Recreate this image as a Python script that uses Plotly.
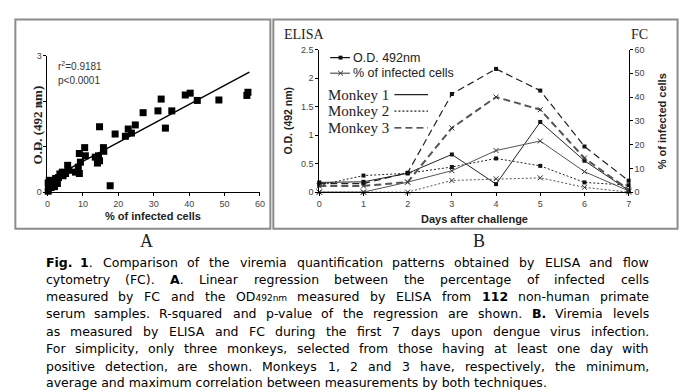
import re
import plotly.graph_objects as go

# ---------------- Panel A data: regression FC % vs O.D. ----------------
fc_pct = [56.6, 56.3, 48.4, 42.3, 40.3, 38.9, 32.1, 31.2, 35.1, 33.3, 27.0, 24.8,
          22.8, 23.7, 22.0, 19.1, 17.7, 14.7, 15.8, 15.9, 14.7, 14.4, 14.1, 13.5,
          10.5, 10.7, 9.0, 9.3, 9.0, 8.7, 7.9, 5.7, 6.0, 4.2, 4.4, 3.1, 2.3, 1.9,
          2.8, 0.9, 0.5, 0.3, 0.5, 1.4, 0.2, 5.1, 1.0, 0.2, 3.5, 2.0]
od_492 = [2.20, 2.13, 2.03, 2.02, 2.18, 2.14, 2.05, 1.79, 1.79, 1.41, 1.75, 1.48,
          1.39, 1.30, 1.23, 1.28, 0.14, 1.44, 0.98, 0.90, 0.69, 0.80, 0.64, 0.77,
          0.98, 0.80, 0.85, 0.66, 0.41, 0.55, 0.44, 0.59, 0.48, 0.44, 0.36, 0.32,
          0.30, 0.23, 0.19, 0.21, 0.16, 0.09, 0.26, 0.16, 0.02, 0.41, 0.10, 0.20,
          0.40, 0.12]
reg_slope = 0.0418
reg_intercept = 0.26
reg_x = [0, 57]
r2_label = "r<sup>2</sup>=0.9181"
p_label = "p&lt;0.0001"

# ---------------- Panel B data: viremia over days ----------------
days = [0, 1, 2, 3, 4, 5, 6, 7]
m1_od = [0.17, 0.18, 0.33, 0.66, 0.14, 1.23, 0.55, 0.03]
m1_pct = [0.0, 0.0, 4.2, 9.0, 17.5, 21.5, 8.6, 0.5]
m2_od = [0.12, 0.29, 0.33, 0.44, 0.59, 0.46, 0.17, 0.12]
m2_pct = [0.0, 0.0, 0.0, 4.9, 5.6, 6.0, 2.0, 0.0]
m3_od = [0.15, 0.15, 0.34, 1.72, 2.16, 1.78, 0.80, 0.20]
m3_pct = [2.6, 2.6, 4.2, 27.0, 40.0, 34.7, 14.3, 1.0]

W, H = 689, 392


def px(x):
    return x / W


def py(y):
    return 1 - y / H


fig = go.Figure()

# Panel A traces
fig.add_trace(go.Scatter(x=fc_pct, y=od_492, mode="markers", cliponaxis=False,
                         marker=dict(symbol="square", size=7, color="black"),
                         xaxis="x", yaxis="y", showlegend=False))
fig.add_trace(go.Scatter(x=reg_x, y=[reg_intercept + reg_slope * v for v in reg_x],
                         mode="lines", line=dict(color="black", width=1.4),
                         xaxis="x", yaxis="y", showlegend=False))

# Panel B traces
monkeys = [
    (m1_od, m1_pct, "solid", 1.0, 1.0),
    (m2_od, m2_pct, "2px,2px", 1.0, 1.0),
    (m3_od, m3_pct, "7px,4px", 1.2, 2.0),
]
for od, pct, dash, w_od, w_pct in monkeys:
    fig.add_trace(go.Scatter(x=days, y=od, mode="lines+markers", cliponaxis=False,
                             line=dict(color="#222", width=w_od, dash=dash),
                             marker=dict(symbol="square", size=4, color="#111"),
                             xaxis="x2", yaxis="y2", showlegend=False))
    fig.add_trace(go.Scatter(x=days, y=pct, mode="lines+markers", cliponaxis=False,
                             line=dict(color="#555", width=w_pct, dash=dash),
                             marker=dict(symbol="x-thin", size=5,
                                         line=dict(width=1, color="#333")),
                             xaxis="x2", yaxis="y3", showlegend=False))

tickf = dict(family="Liberation Sans, Arial", size=9, color="#444")
axis_common = dict(showline=True, linecolor="black", linewidth=1, ticks="outside",
                   ticklen=3, tickcolor="black", showgrid=False, zeroline=False,
                   tickfont=tickf)

fig.update_layout(
    width=W, height=H, margin=dict(l=0, r=0, t=0, b=0),
    paper_bgcolor="white", plot_bgcolor="white",
    xaxis=dict(domain=[px(45), px(260)], range=[0, 60], tickvals=[0, 10, 20, 30, 40, 50, 60],
               anchor="y", **axis_common),
    yaxis=dict(domain=[py(192), py(52.3)], range=[0, 3], tickvals=[0, 1, 2, 3],
               anchor="x", **axis_common),
    xaxis2=dict(domain=[px(320), px(633)], range=[0, 7], tickvals=days,
                anchor="y2", **axis_common),
    yaxis2=dict(domain=[py(192), py(45.7)], range=[0, 2.5],
                tickvals=[0, 0.5, 1, 1.5, 2, 2.5], anchor="x2", **axis_common),
    yaxis3=dict(domain=[py(192), py(45.7)], range=[0, 60], overlaying="y2", side="right",
                tickvals=[0, 10, 20, 30, 40, 50, 60], anchor="x2", **axis_common),
)

ann = []
shapes = []


def text_at(x, y, text, font, xanchor="left", angle=0):
    return dict(x=px(x), y=py(y), xref="paper", yref="paper", text=text, xanchor=xanchor,
                yanchor="middle", showarrow=False, font=font, textangle=angle, borderpad=0)


# Panel frames
for x0, x1 in [(12.5, 270.5), (273.5, 682.5)]:
    shapes.append(dict(type="rect", xref="paper", yref="paper", x0=px(x0), x1=px(x1),
                       y0=py(229.5), y1=py(15), line=dict(color="#8c8c8c", width=2)))

sans = "Liberation Sans, Arial"
serif = "Liberation Serif, Times New Roman"

# Panel A texts
ann += [
    text_at(55, 63, r2_label, dict(family=sans, size=10, color="#333")),
    text_at(55, 77, p_label, dict(family=sans, size=10, color="#333")),
    text_at(152, 217, "<b>% of infected cells</b>", dict(family=sans, size=11, color="#222"), "center"),
    text_at(35, 123, "<b>O.D. (492 nm)</b>", dict(family=serif, size=13, color="#222"), "center", -90),
    text_at(145, 242, "A", dict(family=serif, size=18, color="#222"), "center"),
    text_at(482, 242, "B", dict(family=serif, size=18, color="#222"), "center"),
]

# Panel B texts
ann += [
    text_at(283, 30, "ELISA", dict(family=serif, size=14, color="#222")),
    text_at(654, 30, "FC", dict(family=serif, size=14, color="#222"), "right"),
    text_at(477, 220, "<b>Days after challenge</b>", dict(family=sans, size=11, color="#222"), "center"),
    text_at(288, 119, "<b>O.D. (492 nm)</b>", dict(family=sans, size=10.5, color="#222"), "center", -90),
    text_at(667, 119, "<b>% of infected cells</b>", dict(family=sans, size=11, color="#222"), "center", -90),
]

# Panel B legend (decoration)
legend_font = dict(family=sans, size=12.5, color="#222")
for yy, label, col, sym in [(54, "O.D. 492nm", "#111", "sq"), (70, "% of infected cells", "#555", "x")]:
    shapes.append(dict(type="line", xref="paper", yref="paper", x0=px(331), x1=px(351),
                       y0=py(yy), y1=py(yy), line=dict(color=col, width=1.2)))
    if sym == "sq":
        shapes.append(dict(type="rect", xref="paper", yref="paper", x0=px(339.5), x1=px(343.5),
                           y0=py(yy + 2), y1=py(yy - 2), fillcolor="#111", line=dict(width=0)))
    else:
        shapes.append(dict(type="path", xref="paper", yref="paper",
                           path=f"M {px(339)} {py(yy-2.5)} L {px(344)} {py(yy+2.5)} M {px(339)} {py(yy+2.5)} L {px(344)} {py(yy-2.5)}",
                           line=dict(color="#333", width=1)))
    ann.append(text_at(353, yy, label, legend_font))

for yy, label, dash in [(92, "Monkey 1", "solid"), (109, "Monkey 2", "2px,2px"),
                        (126, "Monkey 3", "7px,4px")]:
    ann.append(text_at(328, yy, label, dict(family=serif, size=15, color="#222")))
    shapes.append(dict(type="line", xref="paper", yref="paper", x0=px(396), x1=px(430),
                       y0=py(yy), y1=py(yy), line=dict(color="#222", width=1.2, dash=dash)))

# ---------------- Caption ----------------
caption_lines = [
    "<b>Fig.</b> <b>1</b>. Comparison of the viremia quantification patterns obtained by ELISA and flow",
    "cytometry (FC). <b>A</b>. Linear regression between the percentage of infected cells",
    "measured by FC and the OD<span style='font-size:9px'>492nm</span> measured by ELISA from <b>112</b> non-human primate",
    "serum samples. R-squared and p-value of the regression are shown. <b>B.</b> Viremia levels",
    "as measured by ELISA and FC during the first 7 days upon dengue virus infection.",
    "For simplicity, only three monkeys, selected from those having at least one day with",
    "positive detection, are shown. Monkeys 1, 2 and 3 have, respectively, the minimum,",
    "average and maximum correlation between measurements by both techniques.",
]
caption_y = [264, 282, 299.5, 317, 335, 353, 370.5, 387.5]
justified = [True, True, True, True, True, True, True, False]
cap_left, cap_right, cap_size = 42, 652, 12.5

CW = {' ': 651, '!': 821, '%': 1946, '(': 799, ')': 799, ',': 651, '-': 739, '.': 651,
      ':': 690, '=': 1716, 'A': 1401, 'B': 1405, 'C': 1430, 'D': 1577, 'E': 1294,
      'F': 1178, 'G': 1587, 'H': 1540, 'I': 604, 'L': 1141, 'M': 1767, 'N': 1532,
      'O': 1612, 'P': 1235, 'R': 1423, 'S': 1300, 'T': 1251, 'V': 1401,
      'a': 1255, 'b': 1300, 'c': 1126, 'd': 1300, 'e': 1260, 'f': 721, 'g': 1300,
      'h': 1298, 'i': 569, 'j': 569, 'k': 1186, 'l': 569, 'm': 1995, 'n': 1298,
      'o': 1253, 'p': 1300, 'q': 1300, 'r': 842, 's': 1067, 't': 803, 'u': 1298,
      'v': 1212, 'w': 1675, 'x': 1212, 'y': 1212, 'z': 1075}


def word_width(word, size):
    bold = False
    small = False
    total = 0.0
    for seg in re.split(r"(<[^>]+>)", word):
        if seg == "<b>":
            bold = True
        elif seg == "</b>":
            bold = False
        elif seg.startswith("<span"):
            small = True
        elif seg == "</span>":
            small = False
        else:
            for ch in seg:
                w = CW.get(ch, 1303 if ch.isdigit() else 1250) / 2048.0
                if bold:
                    w *= 1.1
                total += w * (9 if small else size)
    return total


cap_font = dict(family="DejaVu Sans", size=cap_size, color="black")
for line, yy, just in zip(caption_lines, caption_y, justified):
    if not just:
        ann.append(text_at(cap_left, yy, line, cap_font))
        continue
    words = re.split(r" (?![^<]*>)", line)
    widths = [word_width(w, cap_size) for w in words]
    gap = (cap_right - cap_left - sum(widths)) / (len(words) - 1)
    xpos = cap_left
    for w, wd in zip(words, widths):
        ann.append(text_at(xpos, yy, w, cap_font))
        xpos += wd + gap

fig.update_layout(annotations=ann, shapes=shapes)
fig.write_html("out.html", config={"displayModeBar": False},
               post_script="document.body.style.margin='0';document.body.style.overflow='hidden';")
